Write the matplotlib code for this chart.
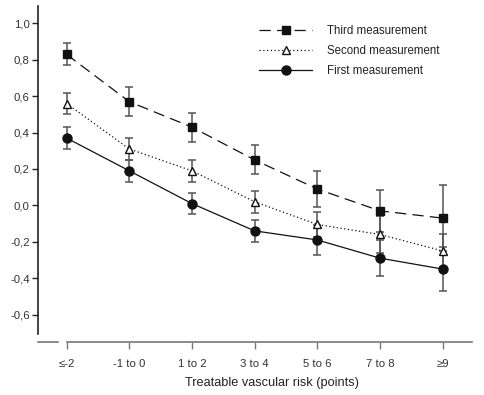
import numpy as np
import matplotlib
matplotlib.use('Agg')
import matplotlib.pyplot as plt

plt.rcParams['font.family'] = ['Liberation Sans', 'DejaVu Sans']

categories = ['≤-2', '-1 to 0', '1 to 2', '3 to 4', '5 to 6', '7 to 8', '≥9']

third = [0.83, 0.57, 0.43, 0.25, 0.09, -0.03, -0.07]
third_err = [0.06, 0.08, 0.08, 0.08, 0.10, 0.115, 0.18]

second = [0.56, 0.31, 0.19, 0.02, -0.105, -0.16, -0.25]
second_err = [0.06, 0.06, 0.06, 0.06, 0.07, 0.10, 0.09]

first = [0.37, 0.19, 0.01, -0.14, -0.19, -0.29, -0.35]
first_err = [0.06, 0.06, 0.06, 0.06, 0.08, 0.10, 0.12]

yticks = [-0.6, -0.4, -0.2, 0.0, 0.2, 0.4, 0.6, 0.8, 1.0]

fig = plt.figure(figsize=(4.84, 3.95), dpi=100)
W, H = 484, 395
ax = fig.add_axes([38 / W, 1 - 334 / H, (472 - 38) / W, (334 - 6) / H])

x = np.arange(len(categories))
errc = '#555555'

ax.errorbar(x, first, yerr=first_err, fmt='none', ecolor=errc, elinewidth=1.1,
            capsize=3, capthick=1.1, zorder=2)
ax.errorbar(x, second, yerr=second_err, fmt='none', ecolor=errc, elinewidth=1.1,
            capsize=3, capthick=1.1, zorder=2)
ax.errorbar(x, third, yerr=third_err, fmt='none', ecolor=errc, elinewidth=1.1,
            capsize=3, capthick=1.1, zorder=2)

ax.plot(x, third, color='#111111', lw=0.9, dashes=(9, 5), marker='s', ms=6,
        mfc='#111111', mec='#111111', label='Third measurement', zorder=3)
ax.plot(x, second, color='#111111', lw=0.9, dashes=(1, 2), marker='^', ms=6,
        mfc='white', mec='#111111', mew=1, label='Second measurement', zorder=3)
ax.plot(x, first, color='#111111', lw=0.9, ls='-', marker='o', ms=6.5,
        mfc='#111111', mec='#111111', label='First measurement', zorder=3)

ax.set_xlim(-0.457, 6.47)
ax.set_ylim(-0.707, 1.096)

ax.set_yticks(yticks)
ax.set_yticklabels([f'{v:.1f}'.replace('.', ',') for v in yticks])
ax.set_xticks(x)
ax.set_xticklabels(categories)

for s in ['top', 'right']:
    ax.spines[s].set_visible(False)
ax.spines['left'].set_color('#222222')
ax.spines['left'].set_linewidth(1.2)
ax.spines['bottom'].set_position(('outward', 6))
ax.spines['bottom'].set_color('#777777')
ax.spines['bottom'].set_linewidth(1.2)
ax.spines['bottom'].set_bounds(0, 6.47)
# small detached piece of x axis left of first tick
ax.plot([-0.457, -0.14], [0, 0], color='#777777', lw=1.2, clip_on=False,
        transform=matplotlib.transforms.blended_transform_factory(
            ax.transData, ax.spines['bottom'].get_spine_transform()))

ax.tick_params(axis='y', direction='out', length=4, width=1, color='#222222',
               labelsize=8.2, labelcolor='#333333', pad=2)
ax.tick_params(axis='x', direction='out', length=5, width=1, color='#777777',
               labelsize=8.2, labelcolor='#333333', pad=7)

fig.text(272 / W, 1 - 383 / H, 'Treatable vascular risk (points)', fontsize=9.2,
         color='#222222', ha='center', va='center')

leg = ax.legend(loc='upper left', bbox_to_anchor=(259 / W, 1 - 25 / H),
                bbox_transform=fig.transFigure, frameon=False, fontsize=8.3,
                handlelength=4.6, handletextpad=1.3, labelspacing=0.68,
                borderpad=0, borderaxespad=0)
for t in leg.get_texts():
    t.set_color('#222222')

fig.savefig('out.png', dpi=100)
